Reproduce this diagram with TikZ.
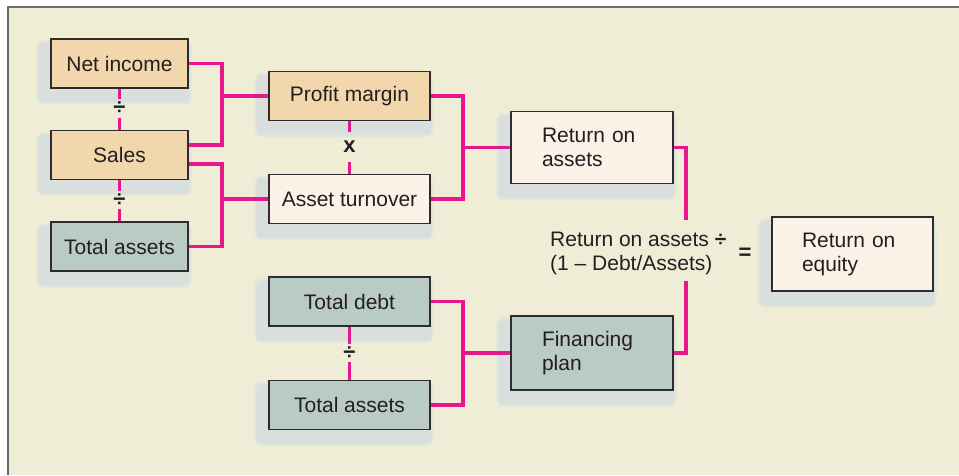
\documentclass[tikz,border=0pt]{standalone}
\usepackage{fontspec}
\setmainfont{Liberation Sans}
\usetikzlibrary{backgrounds}
\definecolor{bgc}{HTML}{F0EDD6}
\definecolor{framec}{HTML}{6A6A6A}
\definecolor{orangef}{HTML}{F2D6AC}
\definecolor{palef}{HTML}{FCF2E8}
\definecolor{grayf}{HTML}{BACBC4}
\definecolor{boxline}{HTML}{2E2C2C}
\definecolor{txt}{HTML}{231F20}
\definecolor{magentac}{HTML}{E8178C}
\definecolor{shadowc}{HTML}{D9DFDC}
\definecolor{shadowo}{HTML}{E3E6DA}
\pgfdeclarelayer{shadowlayer}
\pgfsetlayers{background,shadowlayer,main}
\newcommand\shad[1]{%
  \fill[shadowo, rounded corners=8pt] ([shift={(-14,2)}]#1.north west) rectangle ([shift={(3,16)}]#1.south east);
  \fill[shadowc, rounded corners=6pt] ([shift={(-12,4)}]#1.north west) rectangle ([shift={(1,14)}]#1.south east);}
\tikzset{
  box/.style={draw=boxline, line width=1.4pt, inner sep=0pt, text=txt, font=\fontsize{21}{24}\selectfont},
  bw/.style={minimum width=137pt, minimum height=49pt},
  mw/.style={minimum width=161pt, minimum height=49pt},
  lw/.style={align=left, text width=100pt, inner xsep=31pt, minimum height=72pt},
  link/.style={draw=magentac, line width=3.2pt},
  op/.style={inner sep=0pt, text=txt, font=\fontsize{22}{24}\selectfont\bfseries}
}
\begin{document}
\begin{tikzpicture}[x=1pt,y=-1pt]
\useasboundingbox (0,0) rectangle (959,475);
\begin{pgfonlayer}{background}
\fill[white] (0,0) rectangle (959,475);
\fill[bgc] (8,7) rectangle (959,475);
\draw[framec, line width=2pt] (8,475) -- (8,7) -- (959,7);
\end{pgfonlayer}

% boxes
\node[box, fill=orangef, bw] (ni) at (119.5,63.5) {Net income};
\node[box, fill=orangef, bw] (sa) at (119.5,155) {Sales};
\node[box, fill=grayf, bw] (ta) at (119.5,246.5) {Total assets};
\node[box, fill=orangef, mw] (pm) at (349.5,96) {Profit margin};
\node[box, fill=palef, mw] (at) at (349.5,199) {Asset turnover};
\node[box, fill=palef, lw] (roa) at (592,147.5) {Return on\\assets};
\node[box, fill=grayf, mw] (td) at (349.5,301.5) {Total debt};
\node[box, fill=grayf, mw] (tb) at (349.5,405) {Total assets};
\node[box, fill=grayf, lw, minimum height=74pt] (fp) at (592,353) {Financing\\plan};
\node[box, fill=palef, align=left, text width=101pt, inner xsep=30pt, minimum height=74pt] (roe) at (852.5,254) {Return on\\equity};

\begin{pgfonlayer}{shadowlayer}
\shad{ni}\shad{sa}\shad{ta}\shad{pm}\shad{at}\shad{roa}\shad{td}\shad{tb}\shad{fp}\shad{roe}
\end{pgfonlayer}

% operators
\node[op, minimum height=18pt] (d1) at (119.5,108.5) {÷};
\node[op, minimum height=18pt] (d2) at (119.5,200) {÷};
\node[op, minimum height=30pt] (mx) at (349.5,147) {x};
\node[op, minimum height=18pt] (d3) at (349.5,353) {÷};
\node[op] (eq) at (745,254) {=};
\node[inner sep=0pt, text=txt, font=\fontsize{21}{24}\selectfont, align=left, anchor=west] (form) at (550,253) {Return on assets \textbf{÷}\\(1 – Debt/Assets)};

\draw[link] (ni.south) -- (d1.north) (d1.south) -- (sa.north);
\draw[link] (sa.south) -- (d2.north) (d2.south) -- (ta.north);
\draw[link] (pm.south) -- (mx.north) (mx.south) -- (at.north);
\draw[link] (td.south) -- (d3.north) (d3.south) -- (tb.north);

% junctions
\coordinate (j1) at (222,96);
\coordinate (j2) at (222,199);
\coordinate (j3) at (463,147.5);
\coordinate (j4) at (463,353);
\coordinate (c1) at (686,220);
\coordinate (c2) at (686,281);

\draw[link] (ni.east) -| (j1) |- ([yshift=10pt]sa.east);
\draw[link] (j1) -- (pm.west);
\draw[link] ([yshift=-9pt]sa.east) -| (j2) |- (ta.east);
\draw[link] (j2) -- (at.west);
\draw[link] (pm.east) -| (j3) |- (at.east);
\draw[link] (j3) -- (roa.west);
\draw[link] (roa.east) -| (c1);
\draw[link] (c2) |- (fp.east);
\draw[link] (td.east) -| (j4) |- (tb.east);
\draw[link] (j4) -- (fp.west);
\end{tikzpicture}
\end{document}
